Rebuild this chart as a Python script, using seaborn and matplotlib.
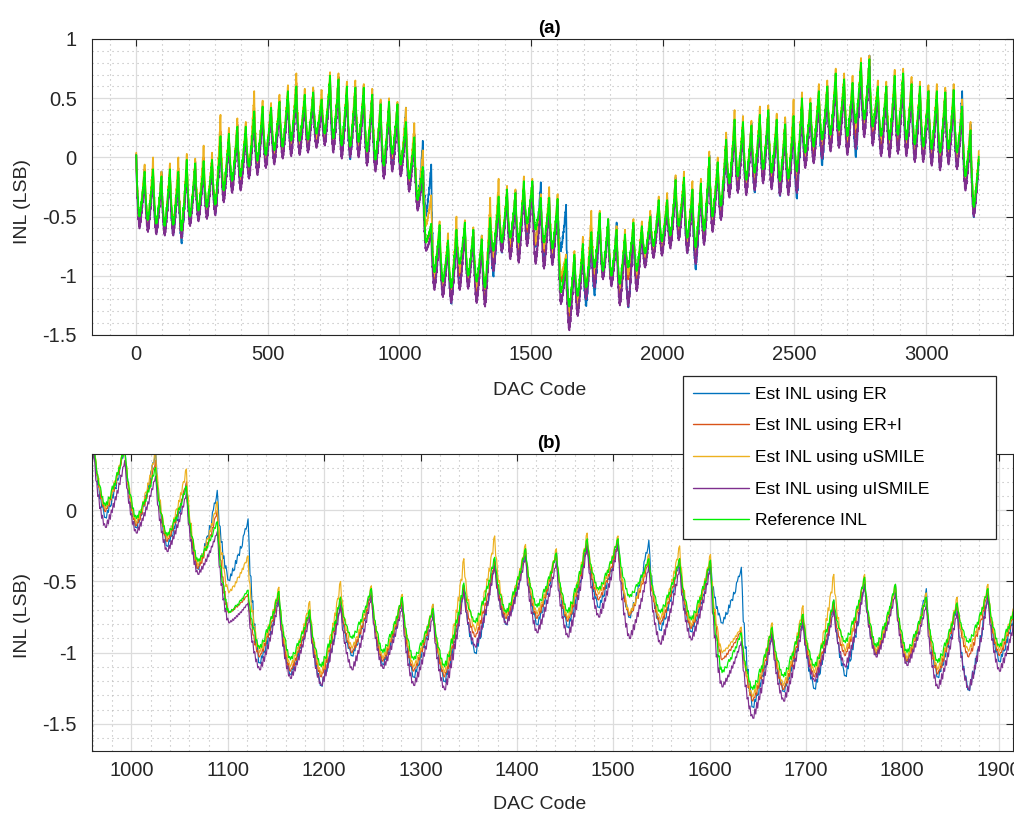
import numpy as np
import pandas as pd
import matplotlib
matplotlib.use("Agg")
import matplotlib.pyplot as plt
from matplotlib.lines import Line2D
from matplotlib.ticker import MultipleLocator, FuncFormatter
import seaborn as sns

# ---------------- data ----------------
# One DAC segment = 32 codes: peak at code 32k+1, trough at 32k+13.
series_names = ["Est INL using ER", "Est INL using ER+I", "Est INL using uSMILE",
                "Est INL using uISMILE", "Reference INL"]
series_colors = ["#0072BD", "#D95319", "#EDB120", "#7E2F8E", "#00EE00"]

# Reference INL: peak value of each segment (k = 0..100)
ref_peak = [
    0.02, -0.12, -0.10, -0.16, -0.10, -0.12, -0.02, -0.05, -0.03, -0.02,
    0.18, 0.20, 0.26, 0.26, 0.39, 0.43, 0.42, 0.47, 0.56, 0.60,
    0.53, 0.55, 0.49, 0.69, 0.66, 0.60, 0.59, 0.59, 0.53, 0.45,
    0.47, 0.45, 0.30, 0.17, -0.08, -0.56, -0.57, -0.70, -0.61, -0.55,
    -0.61, -0.69, -0.51, -0.33, -0.27, -0.30, -0.20, -0.20, -0.34, -0.34,
    -0.35, -0.86, -0.82, -0.73, -0.63, -0.47, -0.52, -0.61, -0.65, -0.55,
    -0.58, -0.50, -0.36, -0.36, -0.19, -0.17, -0.27, -0.22, 0.00, -0.04,
    0.15, 0.32, 0.30, 0.27, 0.36, 0.40, 0.32, 0.28, 0.35, 0.50,
    0.46, 0.56, 0.60, 0.71, 0.66, 0.63, 0.80, 0.83, 0.60, 0.60,
    0.69, 0.71, 0.62, 0.60, 0.56, 0.56, 0.55, 0.57, 0.43, 0.23,
    0.02]
# Reference INL: trough value of each segment (k = 0..99)
ref_trough = [
    -0.50, -0.53, -0.56, -0.58, -0.57, -0.62, -0.50, -0.45, -0.42, -0.40,
    -0.28, -0.20, -0.16, -0.08, -0.03, 0.02, 0.06, 0.09, 0.14, 0.14,
    0.15, 0.20, 0.20, 0.16, 0.10, 0.09, 0.13, 0.05, -0.02, -0.07,
    0.03, -0.06, -0.18, -0.36, -0.72, -0.97, -1.05, -1.10, -0.90, -1.00,
    -1.05, -1.10, -0.79, -0.72, -0.68, -0.72, -0.56, -0.61, -0.72, -0.77,
    -1.14, -1.26, -1.17, -1.10, -0.93, -0.96, -1.00, -1.07, -0.93, -0.96,
    -0.81, -0.75, -0.71, -0.66, -0.58, -0.68, -0.76, -0.62, -0.50, -0.41,
    -0.22, -0.16, -0.19, -0.13, -0.10, -0.13, -0.20, -0.18, -0.12, 0.04,
    0.09, 0.15, 0.19, 0.23, 0.18, 0.29, 0.32, 0.26, 0.18, 0.15,
    0.19, 0.15, 0.11, 0.09, 0.07, 0.04, 0.07, 0.04, -0.16, -0.42]

# Estimated INL: offsets from the reference at each peak / trough
er_peak_dev = [
    0.00, 0.02, -0.02, 0.04, 0.00, -0.02, 0.00, 0.01, -0.02, 0.00,
    0.00, -0.02, 0.01, 0.00, 0.00, -0.02, 0.02, 0.00, -0.02, 0.00,
    0.00, 0.02, 0.00, -0.02, 0.02, 0.00, 0.01, 0.00, 0.03, 0.02,
    0.02, 0.00, 0.12, 0.02, 0.22, 0.50, -0.02, 0.00, -0.03, 0.00,
    0.00, 0.03, -0.02, -0.01, 0.00, 0.02, -0.02, 0.00, 0.13, 0.00,
    -0.02, 0.46, -0.03, -0.02, 0.00, -0.02, 0.00, 0.06, 0.00, -0.02,
    0.00, 0.02, 0.00, 0.00, 0.02, 0.00, -0.02, 0.00, 0.02, 0.00,
    0.03, 0.00, 0.00, 0.02, 0.00, -0.02, 0.00, 0.05, 0.00, 0.00,
    0.00, 0.02, 0.00, 0.00, -0.02, 0.00, 0.02, 0.03, 0.00, 0.00,
    0.00, 0.02, 0.00, 0.00, 0.00, 0.02, 0.00, 0.00, 0.13, 0.05,
    0.00]
er_trough_dev = [
    -0.05, -0.06, -0.07, -0.06, -0.08, -0.10, -0.05, -0.06, -0.04, -0.07,
    -0.06, -0.07, -0.08, -0.06, -0.09, -0.05, -0.07, -0.06, -0.10, -0.08,
    -0.07, -0.09, -0.06, -0.08, -0.07, -0.10, -0.06, -0.08, -0.07, -0.06,
    -0.08, -0.06, -0.07, -0.05, 0.23, -0.10, -0.10, -0.13, -0.12, -0.08,
    -0.12, -0.10, -0.21, -0.08, -0.12, -0.10, -0.12, -0.14, -0.12, -0.08,
    0.35, -0.12, -0.10, -0.15, -0.23, -0.05, -0.06, -0.10, -0.33, -0.10,
    -0.08, -0.07, -0.09, -0.08, -0.10, -0.12, -0.18, -0.09, -0.08, -0.10,
    -0.08, -0.10, -0.09, -0.16, -0.09, -0.10, -0.12, -0.10, -0.22, -0.10,
    -0.12, -0.21, -0.10, -0.12, -0.10, -0.28, -0.12, -0.10, -0.14, -0.11,
    -0.12, -0.10, -0.12, -0.10, -0.11, -0.12, -0.10, -0.12, -0.10, -0.08]

eri_peak_dev = [
    0.01, 0.02, 0.00, 0.02, 0.01, 0.03, 0.00, 0.02, 0.03, 0.01,
    0.04, 0.00, 0.02, 0.01, 0.03, 0.00, 0.02, 0.01, 0.02, 0.03,
    0.00, 0.02, 0.01, 0.00, 0.02, 0.01, 0.00, 0.02, 0.01, 0.00,
    0.01, 0.00, 0.05, 0.03, 0.08, -0.03, -0.02, -0.01, 0.00, -0.03,
    -0.02, 0.00, -0.02, -0.03, 0.00, 0.00, -0.02, -0.03, -0.01, 0.00,
    0.00, 0.02, -0.02, -0.01, -0.02, 0.00, -0.01, 0.01, 0.00, -0.02,
    0.00, 0.01, 0.00, 0.02, 0.00, 0.01, 0.00, 0.02, 0.01, 0.00,
    0.02, 0.00, 0.01, 0.00, 0.02, 0.01, 0.00, 0.02, 0.00, 0.01,
    0.00, 0.02, 0.01, 0.00, 0.01, 0.00, 0.02, 0.00, 0.01, 0.00,
    0.01, 0.00, 0.02, 0.00, 0.01, 0.00, 0.02, 0.00, 0.03, 0.02,
    0.01]
eri_trough_dev = [
    -0.05, -0.04, -0.06, -0.05, -0.04, -0.06, -0.05, -0.04, -0.06, -0.05,
    -0.04, -0.06, -0.05, -0.05, -0.06, -0.04, -0.05, -0.06, -0.05, -0.04,
    -0.06, -0.05, -0.04, -0.06, -0.05, -0.05, -0.06, -0.04, -0.05, -0.06,
    -0.04, -0.05, -0.04, -0.05, 0.00, -0.06, -0.08, -0.07, -0.10, -0.06,
    -0.08, -0.07, -0.10, -0.04, -0.08, -0.06, -0.07, -0.13, -0.08, -0.06,
    0.09, -0.08, -0.09, -0.07, -0.09, -0.05, -0.06, -0.08, -0.10, -0.06,
    -0.05, -0.06, -0.05, -0.06, -0.05, -0.07, -0.08, -0.06, -0.05, -0.06,
    -0.05, -0.06, -0.06, -0.08, -0.05, -0.06, -0.07, -0.06, -0.10, -0.06,
    -0.07, -0.09, -0.06, -0.07, -0.06, -0.12, -0.07, -0.08, -0.07, -0.06,
    -0.07, -0.06, -0.07, -0.06, -0.07, -0.06, -0.07, -0.06, -0.06, -0.05]

us_peak_dev = [
    0.02, 0.06, 0.10, 0.04, 0.05, 0.12, 0.05, 0.04, 0.13, 0.06,
    0.18, 0.05, 0.07, 0.04, 0.17, 0.05, 0.04, 0.06, 0.05, 0.11,
    0.05, 0.04, 0.08, 0.03, 0.05, 0.04, 0.06, 0.03, 0.05, 0.04,
    0.03, 0.02, 0.12, 0.12, 0.14, 0.24, 0.03, 0.06, 0.11, 0.02,
    0.02, 0.03, 0.17, 0.15, 0.03, 0.03, 0.04, 0.02, 0.03, 0.09,
    0.04, 0.04, 0.03, 0.06, 0.18, 0.02, 0.00, 0.03, 0.04, 0.03,
    0.04, 0.05, 0.03, 0.06, 0.04, 0.05, 0.07, 0.04, 0.05, 0.04,
    0.06, 0.08, 0.05, 0.04, 0.07, 0.04, 0.05, 0.06, 0.14, 0.05,
    0.04, 0.06, 0.05, 0.04, 0.05, 0.06, 0.04, 0.03, 0.05, 0.04,
    0.05, 0.04, 0.06, 0.04, 0.05, 0.06, 0.04, 0.05, 0.06, 0.07,
    0.05]
us_trough_dev = [
    -0.03, -0.02, -0.04, -0.03, -0.02, -0.04, -0.03, -0.02, -0.03, -0.04,
    -0.02, -0.03, -0.03, -0.02, -0.04, -0.03, -0.02, -0.03, -0.04, -0.02,
    -0.03, -0.04, -0.02, -0.03, -0.03, -0.02, -0.04, -0.03, -0.02, -0.03,
    -0.02, -0.03, -0.02, -0.03, 0.14, -0.03, -0.05, -0.05, -0.07, -0.04,
    -0.05, -0.04, -0.06, -0.02, -0.05, -0.04, -0.03, -0.12, -0.05, -0.04,
    0.14, -0.05, -0.06, -0.04, -0.06, -0.03, -0.04, -0.05, -0.06, -0.03,
    -0.03, -0.02, -0.04, -0.03, -0.02, -0.04, -0.05, -0.03, -0.02, -0.03,
    -0.04, -0.03, -0.02, -0.04, -0.03, -0.02, -0.04, -0.03, -0.05, -0.03,
    -0.02, -0.04, -0.03, -0.02, -0.03, -0.05, -0.03, -0.02, -0.04, -0.03,
    -0.02, -0.03, -0.04, -0.02, -0.03, -0.02, -0.03, -0.04, -0.03, -0.02]

uis_peak_dev = [
    0.00, -0.05, -0.06, -0.04, -0.06, -0.05, -0.07, -0.05, -0.06, -0.04,
    -0.05, -0.06, -0.05, -0.07, -0.05, -0.06, -0.04, -0.06, -0.05, -0.07,
    -0.06, -0.05, -0.07, -0.05, -0.06, -0.05, -0.06, -0.07, -0.05, -0.06,
    -0.06, -0.10, -0.06, -0.05, -0.07, -0.09, -0.06, -0.05, -0.06, -0.05,
    -0.06, -0.04, -0.05, -0.06, -0.05, -0.06, -0.05, -0.04, -0.05, -0.06,
    -0.05, -0.06, -0.05, -0.06, -0.07, -0.05, -0.06, -0.05, -0.06, -0.05,
    -0.06, -0.05, -0.07, -0.06, -0.05, -0.06, -0.07, -0.05, -0.06, -0.05,
    -0.07, -0.06, -0.05, -0.06, -0.07, -0.05, -0.06, -0.07, -0.06, -0.05,
    -0.06, -0.07, -0.05, -0.06, -0.08, -0.06, -0.07, -0.06, -0.05, -0.07,
    -0.06, -0.07, -0.05, -0.06, -0.07, -0.06, -0.05, -0.07, -0.06, -0.04,
    -0.03]
uis_trough_dev = [
    -0.10, -0.10, -0.09, -0.08, -0.09, -0.06, -0.08, -0.09, -0.10, -0.09,
    -0.10, -0.10, -0.12, -0.10, -0.12, -0.11, -0.12, -0.10, -0.13, -0.12,
    -0.11, -0.12, -0.10, -0.12, -0.11, -0.09, -0.13, -0.12, -0.10, -0.11,
    -0.15, -0.10, -0.11, -0.09, -0.07, -0.15, -0.13, -0.13, -0.22, -0.11,
    -0.18, -0.16, -0.17, -0.08, -0.18, -0.17, -0.19, -0.29, -0.22, -0.14,
    -0.10, -0.20, -0.17, -0.10, -0.17, -0.07, -0.09, -0.18, -0.33, -0.17,
    -0.12, -0.10, -0.12, -0.11, -0.12, -0.13, -0.14, -0.12, -0.13, -0.12,
    -0.12, -0.14, -0.13, -0.15, -0.12, -0.14, -0.12, -0.14, -0.18, -0.13,
    -0.14, -0.16, -0.14, -0.15, -0.16, -0.22, -0.15, -0.16, -0.17, -0.15,
    -0.16, -0.14, -0.15, -0.13, -0.14, -0.15, -0.13, -0.14, -0.12, -0.08]

# Normalised shape inside one segment (fall: peak->trough, rise: trough->next peak)
ref_fall = [1.0, 0.80, 0.71, 0.52, 0.50, 0.34, 0.33, 0.29, 0.14, 0.15, 0.03, 0.05, 0.0]
ref_rise = [0.0, 0.07, 0.02, 0.15, 0.13, 0.12, 0.25, 0.33, 0.28, 0.38, 0.34,
            0.49, 0.56, 0.52, 0.65, 0.62, 0.76, 0.85, 0.83, 0.97, 1.0]
er_fall = [1.0, 0.84, 0.61, 0.60, 0.42, 0.43, 0.24, 0.27, 0.13, 0.16, 0.09, 0.00, 0.0]
er_rise = [0.0, -0.01, 0.10, 0.07, 0.19, 0.15, 0.17, 0.32, 0.27, 0.40, 0.42,
           0.40, 0.55, 0.52, 0.56, 0.72, 0.75, 0.84, 0.83, 0.90, 1.0]
eri_fall = [1.0, 0.76, 0.70, 0.52, 0.51, 0.35, 0.35, 0.19, 0.21, 0.08, 0.10, 0.01, 0.0]
eri_rise = [0.0, 0.05, 0.05, 0.13, 0.09, 0.22, 0.18, 0.31, 0.34, 0.31, 0.45,
            0.42, 0.54, 0.58, 0.57, 0.71, 0.70, 0.84, 0.88, 0.90, 1.0]
us_fall = [1.0, 0.75, 0.71, 0.53, 0.42, 0.44, 0.27, 0.27, 0.20, 0.07, 0.09, 0.04, 0.0]
us_rise = [0.0, 0.04, 0.10, 0.06, 0.17, 0.19, 0.16, 0.30, 0.27, 0.41, 0.43,
           0.41, 0.55, 0.53, 0.66, 0.63, 0.77, 0.82, 0.81, 0.97, 1.0]
uis_fall = [1.0, 0.85, 0.62, 0.60, 0.41, 0.43, 0.25, 0.27, 0.12, 0.16, 0.03, 0.05, 0.0]
uis_rise = [0.0, 0.00, 0.11, 0.05, 0.19, 0.12, 0.26, 0.22, 0.36, 0.30, 0.46,
            0.41, 0.55, 0.51, 0.66, 0.64, 0.78, 0.76, 0.90, 0.91, 1.0]

a_xticks = [0, 500, 1000, 1500, 2000, 2500, 3000]
a_yticks = [-1.5, -1, -0.5, 0, 0.5, 1]
b_xticks = [1000, 1100, 1200, 1300, 1400, 1500, 1600, 1700, 1800, 1900]
b_yticks = [-1.5, -1, -0.5, 0]


def build(peaks, troughs, fall, rise):
    vals = []
    for k in range(len(troughs)):
        p, t, pn = peaks[k], troughs[k], peaks[k + 1]
        vals += [t + (p - t) * f for f in fall[:-1]]
        vals += [t + (pn - t) * r for r in rise[:-1]]
    return np.array(vals)


rp = np.array(ref_peak)
rt = np.array(ref_trough)
curves = [
    build(rp + er_peak_dev, rt + er_trough_dev, er_fall, er_rise),
    build(rp + eri_peak_dev, rt + eri_trough_dev, eri_fall, eri_rise),
    build(rp + us_peak_dev, rt + us_trough_dev, us_fall, us_rise),
    build(rp + uis_peak_dev, rt + uis_trough_dev, uis_fall, uis_rise),
    build(rp, rt, ref_fall, ref_rise),
]
codes = np.arange(1, len(curves[0]) + 1)
df = pd.concat([pd.DataFrame({"code": codes, "INL": c, "series": n})
                for c, n in zip(curves, series_names)], ignore_index=True)
palette = dict(zip(series_names, series_colors))

# ---------------- figure ----------------
sns.set_theme(style="white")
plt.rcParams["font.family"] = ["Liberation Sans", "DejaVu Sans"]
plt.rcParams["axes.unicode_minus"] = False

W, H = 1014, 813
fig = plt.figure(figsize=(W / 100, H / 100), dpi=100)
ax_a = fig.add_axes([92 / W, 1 - 335 / H, 921 / W, 296 / H])
ax_b = fig.add_axes([92 / W, 1 - 751 / H, 921 / W, 297 / H])

fmt = FuncFormatter(lambda v, p: "%g" % v)


def style(ax, xt, yt, xminor, xlim, ylim, title, xlab_y, ylab_y):
    ax.set_xlim(*xlim)
    ax.set_ylim(*ylim)
    ax.set_xticks(xt)
    ax.set_yticks(yt)
    ax.xaxis.set_minor_locator(MultipleLocator(xminor))
    ax.yaxis.set_minor_locator(MultipleLocator(0.1))
    ax.xaxis.set_major_formatter(fmt)
    ax.yaxis.set_major_formatter(fmt)
    ax.set_axisbelow(True)
    ax.grid(which="major", color="#dcdcdc", lw=0.9, ls="-")
    ax.grid(which="minor", color="#b8b8b8", lw=0.8, ls=(0, (1, 3.5)))
    ax.tick_params(which="major", direction="in", top=True, right=True,
                   length=5, width=0.8, color="#262626", labelsize=14.5,
                   labelcolor="#262626")
    ax.tick_params(axis="x", which="major", pad=7)
    ax.tick_params(axis="y", which="major", pad=11)
    ax.tick_params(which="minor", length=0)
    for s in ax.spines.values():
        s.set_color("#262626")
        s.set_linewidth(0.8)
        s.set_visible(True)
    ax.set_xlabel("DAC Code", fontsize=14, color="#262626")
    ax.set_ylabel("INL (LSB)", fontsize=14, color="#262626")
    ax.xaxis.set_label_coords((540 - 92) / 921, xlab_y)
    ax.yaxis.set_label_coords(-0.066, ylab_y)
    ax.set_title(title, fontsize=13.5, fontweight="bold", color="#000000",
                 pad=4, x=(549 - 92) / 921)


for ax, lw in [(ax_a, 1.25), (ax_b, 0.85)]:
    sns.lineplot(data=df, x="code", y="INL", hue="series", hue_order=series_names,
                 palette=palette, estimator=None, sort=False, linewidth=lw,
                 legend=False, ax=ax)

style(ax_a, a_xticks, a_yticks, 100, (-167, 3330), (-1.5, 1.0), "(a)",
      -0.16, 0.45)
style(ax_b, b_xticks, b_yticks, 20, (959, 1915), (-1.69, 0.395), "(b)",
      -0.152, 0.455)

handles = [Line2D([], [], color=c, lw=1.0) for c in series_colors]
leg = fig.legend(handles, series_names, loc="upper left",
                 bbox_to_anchor=(683 / W, 1 - 377 / H, 313 / W, 0.001),
                 mode="expand", borderaxespad=0.0, fontsize=12.5,
                 handlelength=3.2, handletextpad=0.35, labelspacing=0.95,
                 borderpad=0.6, fancybox=False, framealpha=1.0,
                 edgecolor="#262626")
leg.get_frame().set_linewidth(0.9)
for t in leg.get_texts():
    t.set_color("#000000")

fig.savefig("out.png", dpi=100)
